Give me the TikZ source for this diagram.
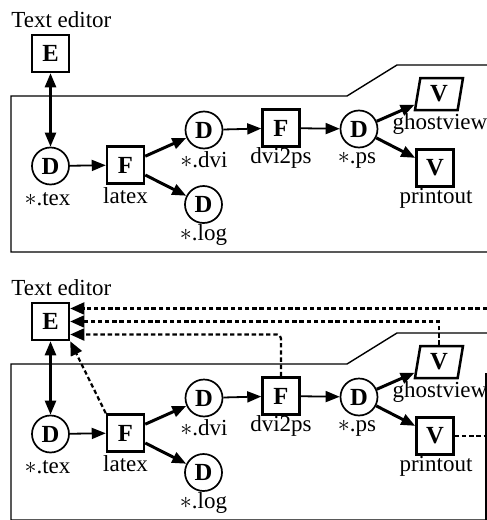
\documentclass[tikz,border=0pt]{standalone}
\usepackage{fontspec}
\setmainfont{Liberation Serif}
\usetikzlibrary{arrows.meta,calc,shapes.geometric}
\begin{document}
\begin{tikzpicture}[x=0.5pt,y=-0.5pt,
  font=\fontsize{11.5}{13}\selectfont,
  letter/.style={font=\fontsize{12.3}{13}\selectfont\bfseries},
  box/.style={draw,letter,line width=1.25pt,minimum size=18.5pt,inner sep=0pt},
  data/.style={draw,letter,circle,line width=0.85pt,minimum size=18.5pt,inner sep=0pt},
  view/.style={draw,letter,trapezium,trapezium left angle=72,trapezium right angle=108,
    trapezium stretches body,line width=1.25pt,minimum height=16pt,minimum width=24pt,inner sep=0pt},
  lab/.style={anchor=base,inner sep=0pt},
  head/.style={-{Triangle[length=7pt,width=5.5pt]}},
  flow/.style={head,line width=0.9pt},
  heavy/.style={head,line width=1.5pt},
  edit/.style={{Triangle[length=7pt,width=5.5pt]}-{Triangle[length=7pt,width=5.5pt]},line width=1.2pt},
  feedback/.style={-{Triangle[length=7pt,width=6pt]},line width=1.1pt,dash pattern=on 2.2pt off 1.4pt},
  plainfeed/.style={line width=1.1pt,dash pattern=on 2.2pt off 1.4pt},
  frame/.style={line width=0.7pt},
]
\useasboundingbox (0,0) rectangle (487,520);

% the same processing chain, drawn twice
\foreach \s/\oy in {a/0,b/268}{
  % outline of the directory
  \draw[frame] (487,65+\oy) -- (397,65+\oy) -- (347,96+\oy) -- (11,96+\oy)
               -- (11,252+\oy) -- (487,252+\oy);
  \node[lab,anchor=base west] (title\s) at (11,27+\oy) {Text editor};
  \node[box]  (E\s)    at (50.5,53.5+\oy) {E};
  \node[data] (Dtex\s) at (50.5,166+\oy) {D};
  \node[box]  (Flat\s) at (125.5,165+\oy) {F};
  \node[data] (Ddvi\s) at (204,130+\oy) {D};
  \node[data] (Dlog\s) at (203.5,204.5+\oy) {D};
  \node[box]  (Fdp\s)  at (281,128+\oy) {F};
  \node[data] (Dps\s)  at (359,129+\oy) {D};
  \node[view] (Vgv\s)  at (439,94+\oy) {V};
  \node[box]  (Vpo\s)  at (435,168+\oy) {V};
  % file and program names
  \node[lab] (Ltex\s) at ($(Dtex\s)+(-3,39)$) {$\ast$.tex};
  \node[lab] (Llat\s) at ($(Flat\s)+(0,38)$) {latex};
  \node[lab] (Ldvi\s) at ($(Ddvi\s)+(0,37)$) {$\ast$.dvi};
  \node[lab] (Llog\s) at ($(Dlog\s)+(0,36)$) {$\ast$.log};
  \node[lab] (Ldp\s)  at ($(Fdp\s)+(0,35)$) {dvi2ps};
  \node[lab] (Lps\s)  at ($(Dps\s)+(-2,34)$) {$\ast$.ps};
  \node[lab] (Lgv\s)  at ($(Vgv\s)+(1,35)$) {ghostview};
  \node[lab] (Lpo\s)  at ($(Vpo\s)+(1,35)$) {printout};
  % data flow
  \draw[edit]  (E\s) -- (Dtex\s);
  \draw[flow]  (Dtex\s) -- (Flat\s);
  \draw[heavy] (Flat\s) -- (Ddvi\s);
  \draw[heavy] (Flat\s) -- (Dlog\s);
  \draw[flow]  (Ddvi\s) -- (Fdp\s);
  \draw[flow]  (Fdp\s) -- (Dps\s);
  \draw[heavy] (Dps\s) -- (Vgv\s);
  \draw[heavy] (Dps\s) -- (Vpo\s);
}

% messages sent back to the editor
\coordinate (r1) at (487,308.5);
\coordinate (r2) at (487,436);
\coordinate (e3) at ($(Eb.east)+(0,13)$);
\draw[feedback] (r1) -- (Eb.east |- r1);
\draw[feedback] (Vgvb.north) |- (Eb.east);
\draw[feedback,rounded corners=2pt] (Fdpb.north) |- (e3);
\draw[feedback] (Flatb.north west) -- (Eb.south east);
\draw[plainfeed] (Vpob.east) -- (r2);
\draw[frame] (486,373) -- (486,520);
\end{tikzpicture}
\end{document}
